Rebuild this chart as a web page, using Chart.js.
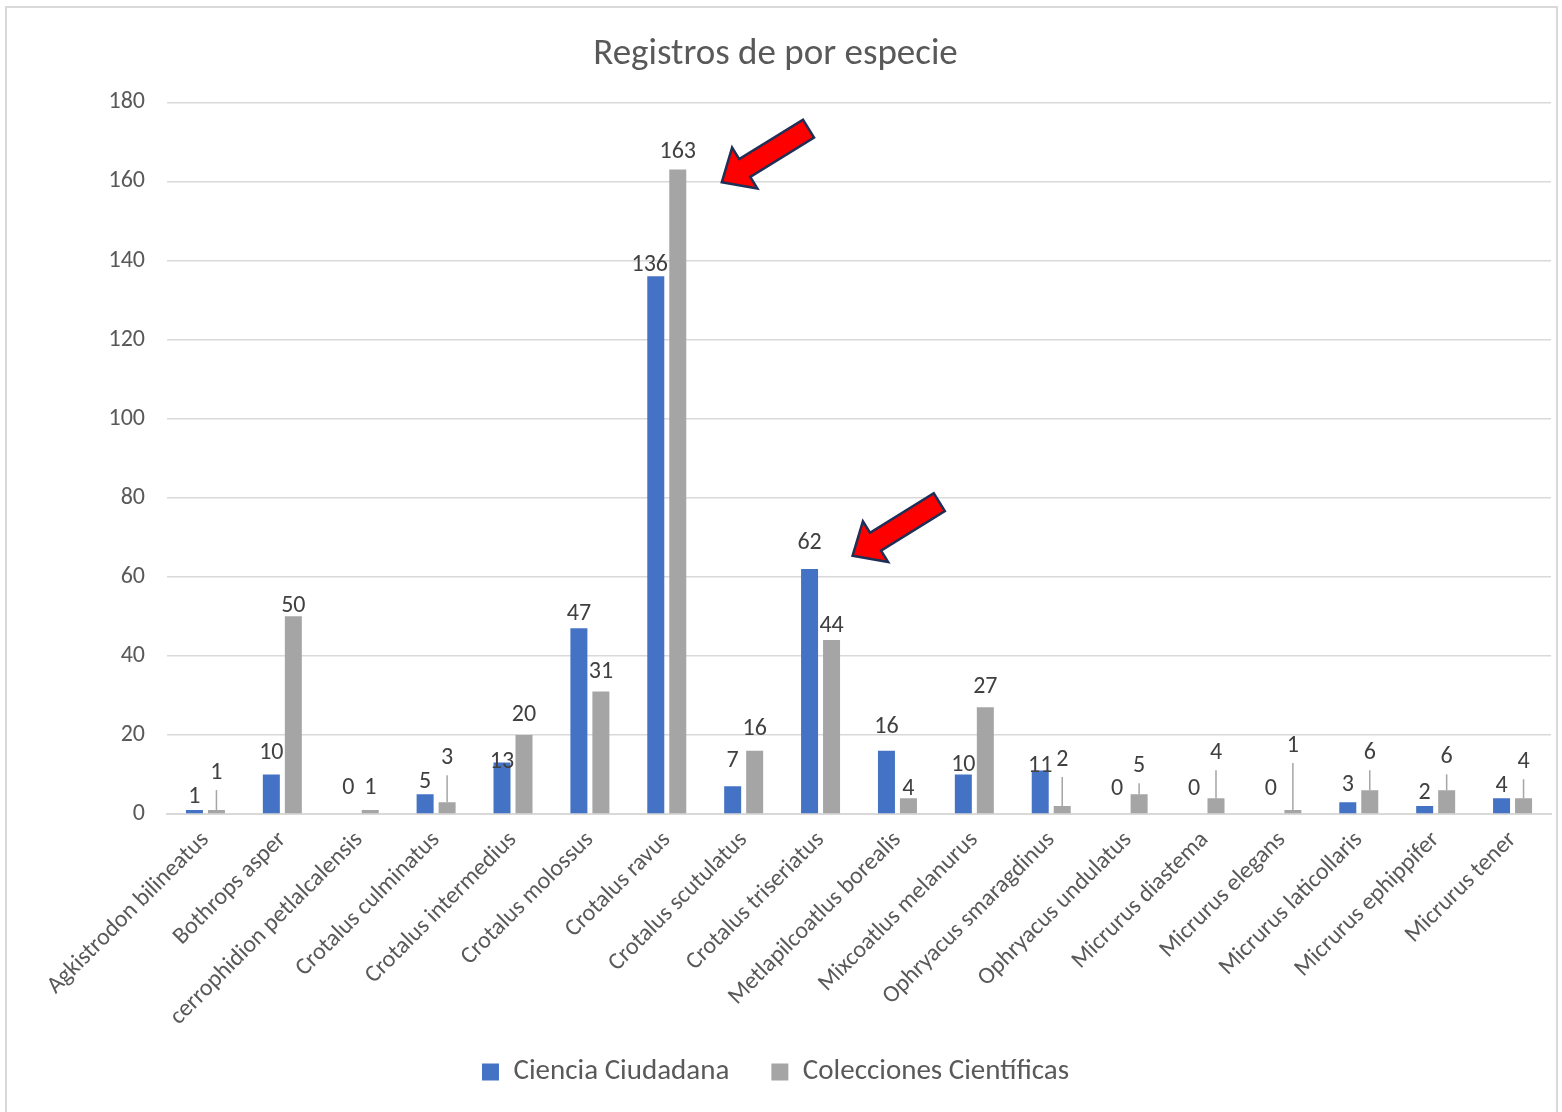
<!DOCTYPE html>
<html>
<head>
<meta charset="utf-8">
<title>Registros de por especie</title>
<script src="https://cdn.jsdelivr.net/npm/chart.js@4/dist/chart.umd.min.js"></script>
<style>
  html, body { margin: 0; padding: 0; background: #ffffff; }
  canvas { display: block; }
</style>
</head>
<body>
<canvas id="overview" width="1562" height="1112"></canvas>
<script>
/* globals Chart: false */

var especies = [
    "Agkistrodon bilineatus",
    "Bothrops asper",
    "cerrophidion petlalcalensis",
    "Crotalus culminatus",
    "Crotalus intermedius",
    "Crotalus molossus",
    "Crotalus ravus",
    "Crotalus scutulatus",
    "Crotalus triseriatus",
    "Metlapilcoatlus borealis",
    "Mixcoatlus melanurus",
    "Ophryacus smaragdinus",
    "Ophryacus undulatus",
    "Micrurus diastema",
    "Micrurus elegans",
    "Micrurus laticollaris",
    "Micrurus ephippifer",
    "Micrurus tener"
];

var cienciaCiudadana = [1, 10, 0, 5, 13, 47, 136, 7, 62, 16, 10, 11, 0, 0, 0, 3, 2, 4];
var coleccionesCientificas = [1, 50, 1, 3, 20, 31, 163, 16, 44, 4, 27, 2, 5, 4, 1, 6, 6, 4];

// how far (px) each value label sits above its bar; far ones get a leader line
var liftCiencia = [13, 21, 26, 12, 1, 14, 11, 25, 26, 24, 9, 5, 25, 25, 25, 17, 13, 12];
var liftColecciones = [37, 10, 22, 44, 20, 19, 18, 22, 14, 9, 20, 46, 28, 45, 64, 37, 33, 36];

// red call-out arrows: category, value at the tip, x shift from the category centre
var flechas = [
    { cat: 6, value: 159.8, dx: 55 },
    { cat: 8, value: 65.3, dx: 32 }
];

var FONT = "Carlito, Calibri, Lato, sans-serif";
var TEXT = "#595959";
var GRID = "#d9d9d9";

var valueLabels = {
    id: "valueLabels",
    afterDatasetsDraw: function(chart) {
        var ctx = chart.ctx;
        var lifts = [liftCiencia, liftColecciones];
        ctx.save();
        ctx.font = "24px " + FONT;
        ctx.textAlign = "center";
        ctx.textBaseline = "middle";
        chart.data.datasets.forEach(function(ds, d) {
            var meta = chart.getDatasetMeta(d);
            meta.data.forEach(function(bar, i) {
                var lift = lifts[d][i];
                var ly = bar.y - lift;
                var lx = bar.x;
                // the 136 label was nudged left, off the grey bar
                if (d === 0 && ds.data[i] > 100) lx -= 6;
                if (lift > 27) {
                    ctx.strokeStyle = "#a5a5a5";
                    ctx.lineWidth = 1.5;
                    ctx.beginPath();
                    ctx.moveTo(bar.x, bar.y);
                    ctx.lineTo(bar.x, ly + 17);
                    ctx.stroke();
                }
                ctx.fillStyle = "#404040";
                ctx.fillText(String(ds.data[i]), lx, ly);
            });
        });
        ctx.restore();
    }
};

var arrows = {
    id: "arrows",
    afterDraw: function(chart) {
        var ctx = chart.ctx;
        var xs = chart.scales.x, ys = chart.scales.y;
        var L = 102, H = 27, hw = 48, sw = 21;
        var ang = Math.atan2(-53.5, 86.5);
        ctx.save();
        flechas.forEach(function(f) {
            var tx = xs.getPixelForValue(f.cat) + f.dx;
            var ty = ys.getPixelForValue(f.value);
            ctx.save();
            ctx.translate(tx, ty);
            ctx.rotate(ang);
            ctx.beginPath();
            ctx.moveTo(0, 0);
            ctx.lineTo(H, -hw / 2);
            ctx.lineTo(H, -sw / 2);
            ctx.lineTo(L, -sw / 2);
            ctx.lineTo(L, sw / 2);
            ctx.lineTo(H, sw / 2);
            ctx.lineTo(H, hw / 2);
            ctx.closePath();
            ctx.fillStyle = "#ff0000";
            ctx.fill();
            ctx.strokeStyle = "#1f2f55";
            ctx.lineWidth = 2.5;
            ctx.lineJoin = "miter";
            ctx.stroke();
            ctx.restore();
        });
        ctx.restore();
    }
};

var frame = {
    id: "frame",
    afterLayout: function(chart) {
        // long rotated names run past the axis box, don't cut them off
        chart.scales.x._computeLabelArea = function() { return null; };
    },
    beforeDraw: function(chart) {
        var ctx = chart.ctx;
        ctx.save();
        ctx.fillStyle = "#ffffff";
        ctx.fillRect(0, 0, chart.width, chart.height);
        ctx.strokeStyle = GRID;
        ctx.lineWidth = 2;
        ctx.strokeRect(6, 7, 1551, 1200);
        ctx.restore();
    }
};

var config = {
    type: 'bar',
    data: {
        labels: especies,
        datasets: [
            {
                label: "Ciencia Ciudadana",
                data: cienciaCiudadana,
                backgroundColor: "#4472c4"
            },
            {
                label: "Colecciones Científicas",
                data: coleccionesCientificas,
                backgroundColor: "#a5a5a5"
            }
        ]
    },
    options: {
        responsive: false,
        animation: false,
        categoryPercentage: 0.572,
        barPercentage: 0.773,
        layout: { padding: { left: 0, right: 11, top: 0, bottom: 15.5 } },
        plugins: {
            title: {
                display: true,
                text: "Registros de por especie",
                color: TEXT,
                font: { family: FONT, size: 37, weight: "normal", lineHeight: 1.2 },
                padding: { top: 33, bottom: 25 }
            },
            legend: {
                position: "bottom",
                labels: {
                    color: TEXT,
                    boxWidth: 17,
                    boxHeight: 17,
                    padding: 42,
                    font: { family: FONT, size: 29 }
                }
            },
            tooltip: { enabled: false }
        },
        scales: {
            x: {
                grid: { display: false, drawTicks: false },
                border: { color: GRID, width: 2 },
                ticks: {
                    color: TEXT,
                    font: { family: FONT, size: 24 },
                    autoSkip: false,
                    minRotation: 45,
                    maxRotation: 45,
                    padding: 12
                },
                afterFit: function(s) {
                    s.height = s.chart.height - 15.5 - s.chart.legend.height - 814;
                }
            },
            y: {
                min: 0,
                max: 180,
                grid: { color: GRID, lineWidth: 1.5, drawTicks: false },
                border: { display: false },
                ticks: {
                    stepSize: 20,
                    color: TEXT,
                    font: { family: FONT, size: 24 },
                    padding: 22
                },
                afterFit: function(s) {
                    s.width = 167;
                }
            }
        }
    },
    plugins: [frame, valueLabels, arrows]
};

// Get the context of the canvas element we want to select
var ctx = document.getElementById("overview").getContext("2d");
var myNewChart = new Chart(ctx, config);
</script>
</body>
</html>
